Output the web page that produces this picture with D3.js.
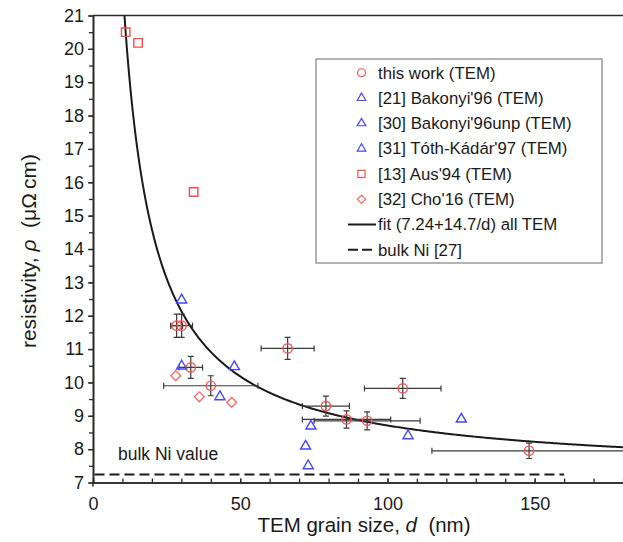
<!DOCTYPE html>
<html><head><meta charset="utf-8">
<script src="https://cdn.jsdelivr.net/npm/d3@7"></script>
<style>
body{margin:0;background:#fff;}
text{font-family:"Liberation Sans",Arial,sans-serif;fill:#1a1a1a;}
</style></head>
<body>
<svg id="chart" width="623" height="542"></svg>
<script>
// ---------- DATA ----------
const xTicks = [0, 50, 100, 150];
const xMinorTicks = d3.range(0, 181, 10);
const yTicks = [7,8,9,10,11,12,13,14,15,16,17,18,19,20,21];
const yMinorTicks = d3.range(7, 21.01, 0.5);

// this work (TEM): d, rho, d error, rho error
const thisWork = [
  {d:28.4, r:11.70, dx:2.0,  dy:0.35},
  {d:30.1, r:11.70, dx:3.7,  dy:0.35},
  {d:33.2, r:10.45, dx:4.0,  dy:0.33},
  {d:40.0, r:9.90,  dx:16.0, dy:0.30},
  {d:66.1, r:11.02, dx:9.0,  dy:0.33},
  {d:79.1, r:9.29,  dx:8.0,  dy:0.30},
  {d:86.1, r:8.89,  dx:15.0, dy:0.26},
  {d:93.1, r:8.85,  dx:18.0, dy:0.27},
  {d:105.2,r:9.82,  dx:13.0, dy:0.30},
  {d:148.1,r:7.95,  dx:33.0, dy:0.23}
];
const bakonyi96 = [
  {d:30.1, r:12.47}, {d:30.1, r:10.49}, {d:48.0, r:10.47}, {d:43.1, r:9.57}
];
const bakonyi96unp = [
  {d:74.0, r:8.69}, {d:72.2, r:8.09}, {d:73.1, r:7.50}
];
const tothKadar97 = [
  {d:107.0, r:8.40}, {d:125.1, r:8.90}
];
const aus94 = [
  {d:11.1, r:20.50}, {d:15.3, r:20.18}, {d:34.2, r:15.71}
];
const cho16 = [
  {d:28.1, r:10.20}, {d:36.1, r:9.57}, {d:47.1, r:9.40}
];
// fit rho = 7.24 + 147/d (legend: 7.24+14.7/d)
const fitA = 7.24, fitB = 147;
const fitD = d3.range(10, 181, 0.5);
const bulkNi = 7.24, bulkNiEnd = 160;

const legendLabels = [
  "this work (TEM)",
  "[21] Bakonyi'96 (TEM)",
  "[30] Bakonyi'96unp (TEM)",
  "[31] Tóth-Kádár'97 (TEM)",
  "[13] Aus'94 (TEM)",
  "[32] Cho'16 (TEM)",
  "fit (7.24+14.7/d) all TEM",
  "bulk Ni [27]"
];

// ---------- STYLE ----------
const RED_C = "#ff5050", BLUE = "#4646ff", RED_S = "#ff4a4a", RED_D = "#ff6a6a";
const svg = d3.select("#chart");
const L = 93, R = 623, T = 15.5, B = 482.5;
const x = d3.scaleLinear().domain([0,180]).range([L,R]);
const y = d3.scaleLinear().domain([7,21]).range([B,T]);

svg.append("defs").append("clipPath").attr("id","clip")
  .append("rect").attr("x",L).attr("y",T).attr("width",R-L).attr("height",B-T);

// axes
const axColor = "#2a2a2a";
const yMinor = svg.append("g").attr("transform",`translate(${L},0)`)
  .call(d3.axisLeft(y).tickValues(yMinorTicks).tickSize(4).tickFormat("").tickSizeOuter(0));
const yAx = svg.append("g").attr("transform",`translate(${L},0)`)
  .call(d3.axisLeft(y).tickValues(yTicks).tickSize(5).tickPadding(4).tickSizeOuter(0));
const xMinor = svg.append("g").attr("transform",`translate(0,${B})`)
  .call(d3.axisBottom(x).tickValues(xMinorTicks).tickSizeInner(-4).tickSizeOuter(0).tickFormat(""));
const xAx = svg.append("g").attr("transform",`translate(0,${B})`)
  .call(d3.axisBottom(x).tickValues(xTicks).tickSizeInner(-4).tickSizeOuter(0).tickPadding(15));
[yMinor,yAx,xMinor,xAx].forEach(g=>{
  g.selectAll("path.domain").attr("stroke",axColor).attr("stroke-width",1.6);
  g.selectAll(".tick line").attr("stroke",axColor).attr("stroke-width",1.3);
  g.selectAll("text").attr("font-size",18).attr("fill","#1a1a1a")
   .style("font-family",'"Liberation Sans",Arial,sans-serif');
});
// top frame line and small y-axis extension below x axis
svg.append("line").attr("x1",x(0)).attr("x2",x(180)).attr("y1",y(21)).attr("y2",y(21))
  .attr("stroke",axColor).attr("stroke-width",1.6);
svg.append("line").attr("x1",x(0)).attr("x2",x(0)).attr("y1",y(7)).attr("y2",y(7)+4)
  .attr("stroke",axColor).attr("stroke-width",1.6);

// axis titles
const xt = svg.append("text").attr("x",364).attr("y",532).attr("text-anchor","middle").attr("font-size",20.5);
xt.append("tspan").text("TEM grain size, ");
xt.append("tspan").attr("font-style","italic").text("d");
xt.append("tspan").text("\u00a0\u00a0(nm)");
const yt = svg.append("text").attr("transform","translate(36,251) rotate(-90)")
  .attr("text-anchor","middle").attr("font-size",21);
yt.append("tspan").text("resistivity, ");
yt.append("tspan").attr("font-style","italic").text("\u03c1");
yt.append("tspan").text("\u00a0\u00a0(\u03bc\u03a9\u2009cm)");

const plot = svg.append("g").attr("clip-path","url(#clip)");

// bulk Ni dashed line
plot.append("line").attr("x1",x(0.5)).attr("x2",x(bulkNiEnd)).attr("y1",y(bulkNi)).attr("y2",y(bulkNi))
  .attr("stroke","#1a1a1a").attr("stroke-width",2).attr("stroke-dasharray","10,5");
svg.append("text").attr("x",118).attr("y",460).attr("font-size",17.5).text("bulk Ni value");

// fit curve
plot.append("path").datum(fitD)
  .attr("d", d3.line().x(d=>x(d)).y(d=>y(fitA + fitB/d)))
  .attr("fill","none").attr("stroke","#1a1a1a").attr("stroke-width",2);

// error bars
const eb = plot.append("g").attr("stroke","#3a3a3a").attr("stroke-width",1.2);
thisWork.forEach(p=>{
  const cx=x(p.d), cy=y(p.r);
  const x1=x(p.d-p.dx), x2=x(p.d+p.dx), y1=y(p.r+p.dy), y2=y(p.r-p.dy);
  eb.append("line").attr("x1",x1).attr("x2",x2).attr("y1",cy).attr("y2",cy);
  eb.append("line").attr("x1",x1).attr("x2",x1).attr("y1",cy-3).attr("y2",cy+3);
  eb.append("line").attr("x1",x2).attr("x2",x2).attr("y1",cy-3).attr("y2",cy+3);
  eb.append("line").attr("x1",cx).attr("x2",cx).attr("y1",y1).attr("y2",y2);
  eb.append("line").attr("x1",cx-3).attr("x2",cx+3).attr("y1",y1).attr("y2",y1);
  eb.append("line").attr("x1",cx-3).attr("x2",cx+3).attr("y1",y2).attr("y2",y2);
});

// markers
const sym = {
  circle: d3.symbol().type(d3.symbolCircle).size(68)(),
  tri: d3.symbol().type(d3.symbolTriangle).size(44)(),
  square: d3.symbol().type(d3.symbolSquare).size(72)(),
  diamond: d3.symbol().type(d3.symbolSquare).size(48)()
};
function marks(data, path, color, rot){
  plot.append("g").selectAll("path").data(data).join("path")
    .attr("d", path)
    .attr("transform", d=>`translate(${x(d.d)},${y(d.r)})${rot?" rotate(45)":""}`)
    .attr("fill","none").attr("stroke",color).attr("stroke-width",1.4);
}
marks(thisWork, sym.circle, RED_C);
marks(bakonyi96, sym.tri, BLUE);
marks(bakonyi96unp, sym.tri, BLUE);
marks(tothKadar97, sym.tri, BLUE);
marks(aus94, sym.square, RED_S);
marks(cho16, sym.diamond, RED_D, true);

// legend
const lg = svg.append("g");
lg.append("rect").attr("x",316).attr("y",59).attr("width",286).attr("height",204)
  .attr("fill","#fff").attr("stroke","#808080").attr("stroke-width",1.2);
const legSyms = [
  {p:sym.circle,c:RED_C},{p:sym.tri,c:BLUE},{p:sym.tri,c:BLUE},{p:sym.tri,c:BLUE},
  {p:sym.square,c:RED_S},{p:sym.diamond,c:RED_D,rot:true}
];
legendLabels.forEach((t,i)=>{
  const cy = 72.7 + i*25.3;
  if(i<6){
    const s = legSyms[i];
    lg.append("path").attr("d",s.p)
      .attr("transform",`translate(361.5,${cy})${s.rot?" rotate(45)":""} scale(0.85)`)
      .attr("fill","none").attr("stroke",s.c).attr("stroke-width",1.4);
  } else if(i===6){
    lg.append("line").attr("x1",348).attr("x2",376).attr("y1",cy).attr("y2",cy)
      .attr("stroke","#1a1a1a").attr("stroke-width",2);
  } else {
    lg.append("line").attr("x1",348).attr("x2",376).attr("y1",cy).attr("y2",cy)
      .attr("stroke","#1a1a1a").attr("stroke-width",2).attr("stroke-dasharray","10,4");
  }
  lg.append("text").attr("x",378).attr("y",cy).attr("dy","0.35em").attr("font-size",16.8).text(t);
});
</script>
</body></html>
